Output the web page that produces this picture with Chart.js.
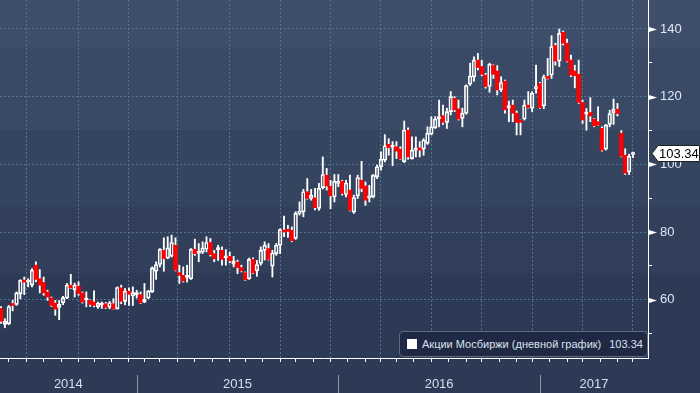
<!DOCTYPE html>
<html>
<head>
<meta charset="utf-8">
<script src="https://cdn.jsdelivr.net/npm/chart.js@4.4.1/dist/chart.umd.min.js"></script>
<style>
  html, body { margin: 0; padding: 0; }
  body {
    width: 700px;
    height: 393px;
    overflow: hidden;
    position: relative;
    background: linear-gradient(to bottom,
      #3f4f6b 0px, #3f4f6b 48px,
      #3a4966 48px, #3a4966 130px,
      #35445f 130px, #35445f 207px,
      #313f5b 207px, #313f5b 273px,
      #2d3a56 273px, #2d3a56 393px);
    font-family: "Liberation Sans", Arial, sans-serif;
  }
  #chart { display: block; }
  .legend {
    position: absolute;
    left: 399px;
    top: 331px;
    width: 249px;
    height: 26px;
    box-sizing: border-box;
    background: #1f2943;
    border: 1px solid #5d6a82;
    border-radius: 4px;
    display: flex;
    align-items: center;
    padding-left: 7px;
    color: #d9e1ed;
    font-size: 11px;
    white-space: nowrap;
  }
  .legend .box { width: 10px; height: 10px; background: #ffffff; margin-right: 5px; }
  .legend .val { margin-left: 8px; }
</style>
</head>
<body>
<canvas id="chart" width="700" height="393"></canvas>
<div class="legend"><span class="box"></span><span>Акции Мосбиржи (дневной график)</span><span class="val" id="lastVal"></span></div>
<script>
// weekly bars, first week starts Monday 28 Apr 2014
const firstWeek = Date.UTC(2014, 3, 28);

const opens = [
  57.4, 52.7, 52.9, 58.8, 58.6, 61.8, 65.7, 65.2, 64.3, 70.2,
  66.2, 65.1, 62.3, 60.5, 59.0, 57.7, 59.1, 60.5, 64.3, 63.0,
  64.0, 62.0, 59.9, 59.8, 59.3, 57.9, 58.4, 58.8, 57.8, 58.8,
  57.3, 63.5, 59.5, 62.5, 61.1, 61.5, 61.5, 59.3, 60.5, 62.3,
  68.4, 70.4, 74.6, 72.3, 72.9, 76.1, 68.0, 67.2, 66.6, 66.2,
  74.9, 73.7, 74.1, 74.9, 76.9, 73.6, 74.8, 74.6, 72.4, 72.8,
  70.5, 71.1, 69.5, 68.0, 66.2, 71.9, 68.5, 70.7, 74.6, 75.1,
  69.9, 73.6, 76.1, 80.5, 80.7, 80.5, 78.1, 85.5, 86.0, 91.9,
  89.9, 90.1, 87.0, 93.1, 96.8, 93.5, 90.4, 94.4, 95.0, 91.1,
  92.4, 85.9, 90.7, 95.3, 93.6, 90.1, 90.4, 96.3, 99.3, 101.2,
  105.9, 105.0, 105.2, 104.5, 100.8, 110.1, 101.7, 104.2, 104.9, 104.5,
  106.2, 108.9, 110.8, 113.4, 114.4, 112.4, 115.6, 119.5, 116.4, 113.6,
  115.1, 123.7, 125.9, 130.8, 128.9, 126.4, 123.0, 129.2, 127.6, 122.0,
  124.6, 116.6, 117.5, 115.1, 112.8, 113.4, 117.5, 116.6, 122.4, 123.9,
  117.3, 125.9, 126.4, 135.1, 130.5, 139.0, 135.8, 130.8, 127.6, 126.6,
  118.3, 114.8, 115.3, 113.4, 112.6, 110.6, 104.5, 111.8, 115.3, 116.3,
  109.2, 102.7, 97.8, 102.9
];
const highs = [
  58.0, 54.4, 58.3, 59.8, 62.3, 65.9, 66.7, 66.2, 69.2, 71.2,
  68.9, 66.7, 62.8, 60.8, 59.8, 59.8, 61.0, 64.8, 67.5, 64.9,
  65.3, 62.3, 62.3, 60.0, 62.6, 59.3, 59.3, 59.2, 59.5, 60.3,
  63.8, 64.3, 63.3, 63.5, 63.8, 62.8, 62.3, 64.8, 62.8, 69.7,
  71.2, 75.1, 78.3, 78.6, 79.1, 78.3, 70.2, 69.7, 70.2, 75.1,
  77.9, 76.6, 77.1, 78.6, 78.1, 74.6, 76.1, 75.6, 74.8, 74.1,
  72.8, 71.7, 70.2, 68.2, 72.3, 72.4, 71.6, 75.6, 77.1, 76.6,
  74.6, 76.6, 81.0, 84.7, 82.0, 81.5, 86.0, 88.9, 92.6, 95.8,
  92.6, 92.9, 94.4, 102.2, 98.8, 95.3, 97.0, 97.0, 95.3, 95.3,
  96.8, 90.9, 96.8, 100.9, 94.8, 93.8, 97.0, 99.8, 103.7, 108.8,
  107.6, 106.7, 106.7, 105.2, 112.8, 110.8, 108.1, 108.1, 106.7, 107.6,
  111.1, 114.1, 114.1, 119.0, 117.5, 116.6, 121.5, 120.0, 119.0, 116.6,
  123.5, 129.9, 131.8, 132.8, 130.8, 126.9, 129.9, 129.4, 129.2, 125.9,
  124.9, 118.7, 119.0, 115.8, 113.1, 119.0, 121.5, 121.5, 129.3, 124.2,
  126.4, 131.3, 138.0, 135.8, 140.0, 139.4, 137.0, 132.3, 129.3, 130.8,
  119.0, 116.5, 119.7, 113.6, 117.0, 111.1, 111.8, 116.0, 119.3, 118.0,
  110.0, 104.6, 103.0, 103.6
];
const lows = [
  53.0, 51.7, 52.6, 56.7, 58.3, 60.3, 61.5, 63.8, 63.8, 65.3,
  62.0, 61.3, 59.8, 58.0, 55.4, 54.1, 58.5, 60.3, 63.3, 60.8,
  61.3, 59.0, 57.9, 58.0, 57.9, 57.4, 57.4, 57.4, 57.3, 57.2,
  57.2, 58.8, 58.5, 58.3, 58.3, 60.5, 58.9, 59.1, 60.3, 62.1,
  66.0, 69.7, 68.4, 72.1, 72.6, 68.5, 64.8, 65.2, 65.2, 66.0,
  73.1, 71.2, 73.6, 74.1, 72.9, 71.2, 71.6, 70.2, 70.2, 70.9,
  69.7, 67.7, 68.2, 65.7, 66.0, 67.7, 66.9, 70.2, 71.7, 71.7,
  66.7, 73.1, 73.6, 78.6, 78.4, 77.1, 77.8, 85.0, 84.5, 89.7,
  89.4, 86.5, 86.4, 92.7, 92.4, 86.9, 88.9, 93.4, 90.9, 90.4,
  86.2, 85.5, 89.9, 91.9, 87.9, 88.9, 90.1, 95.8, 98.3, 100.7,
  102.7, 99.6, 101.7, 101.5, 100.5, 101.5, 101.5, 102.2, 102.2, 102.7,
  105.9, 108.7, 110.6, 111.1, 111.8, 110.6, 114.6, 115.6, 113.1, 111.1,
  114.8, 123.3, 124.6, 127.9, 126.2, 122.5, 121.3, 125.4, 120.5, 121.5,
  115.1, 112.6, 112.6, 108.7, 108.7, 113.1, 116.6, 115.6, 121.0, 116.5,
  116.5, 125.2, 125.4, 129.3, 128.9, 135.3, 130.3, 125.9, 122.6, 118.0,
  112.1, 110.1, 112.6, 111.1, 111.5, 103.9, 104.2, 111.1, 111.8, 114.3,
  102.2, 97.0, 97.0, 102.0
];
const closes = [
  53.6, 53.6, 58.0, 58.3, 62.0, 65.7, 65.2, 65.7, 68.7, 66.0,
  64.3, 62.0, 60.8, 58.3, 57.2, 58.6, 60.6, 64.3, 63.5, 64.3,
  61.8, 59.3, 60.1, 58.6, 58.3, 59.0, 58.6, 57.7, 59.1, 57.3,
  63.6, 59.5, 62.5, 61.6, 62.1, 61.8, 59.1, 60.1, 62.5, 69.4,
  70.4, 74.9, 72.1, 75.3, 76.9, 68.7, 67.2, 65.5, 66.8, 74.9,
  73.6, 74.0, 75.3, 76.9, 73.3, 72.1, 75.1, 71.9, 72.8, 71.5,
  71.4, 69.5, 68.5, 65.9, 71.9, 67.9, 70.4, 74.6, 76.1, 71.9,
  73.8, 76.1, 80.7, 80.0, 80.2, 77.4, 85.5, 86.0, 91.9, 89.9,
  90.9, 87.2, 92.9, 97.0, 93.6, 90.7, 95.0, 94.8, 91.4, 94.5,
  86.4, 90.2, 96.1, 92.9, 89.4, 90.7, 96.8, 99.3, 101.5, 105.5,
  104.9, 105.2, 103.9, 101.7, 110.1, 102.2, 104.2, 104.5, 104.2, 107.2,
  109.2, 111.1, 113.4, 114.1, 112.4, 115.6, 120.0, 116.1, 113.4, 115.1,
  123.3, 126.1, 130.8, 128.6, 126.6, 123.0, 129.6, 126.6, 122.0, 124.2,
  116.1, 117.4, 115.1, 112.4, 112.4, 117.5, 116.8, 121.0, 122.9, 116.7,
  125.9, 125.4, 134.8, 130.5, 138.7, 135.8, 130.5, 126.4, 126.2, 118.3,
  113.1, 115.0, 114.3, 111.4, 111.6, 104.2, 111.6, 115.0, 116.3, 115.0,
  102.4, 97.4, 102.4, 103.34
];

const yTicks = [50, 60, 70, 80, 90, 100, 110, 120, 130, 140];
const years = ['2014', '2015', '2016', '2017'];

const gridColor = '#52748f';
const upColor = '#ffffff';
const downColor = '#ff0000';

// month ticks sit on the bar of the week that holds the 1st of the month
const weekMs = 7 * 24 * 3600 * 1000;
const monthTicks = [];
for (let m = 4; m <= 42; m++) {
  const d = Date.UTC(2014, m, 1);
  monthTicks.push({ value: Math.floor((d - firstWeek) / weekMs), month: m % 12 });
}
const quarterIdx = monthTicks.filter(t => t.month % 3 === 0).map(t => t.value);
const yearIdx = monthTicks.filter(t => t.month === 0).map(t => t.value);

const idx = opens.map((o, i) => i);
const isUp = idx.map(i => closes[i] >= opens[i]);
const lastClose = closes[closes.length - 1];
document.getElementById('lastVal').textContent = lastClose.toFixed(2);

const decorations = {
  id: 'decorations',
  afterDraw(chart) {
    const { ctx, chartArea, scales } = chart;
    const x = scales.x, y = scales.y;
    ctx.save();

    // arrow marks on the major price ticks
    ctx.fillStyle = '#ffffff';
    yTicks.filter(v => v % 20 === 0).forEach(v => {
      const py = Math.round(y.getPixelForValue(v)) + 0.5;
      ctx.beginPath();
      ctx.moveTo(chartArea.right + 1, py - 2.5);
      ctx.lineTo(chartArea.right + 9, py);
      ctx.lineTo(chartArea.right + 1, py + 2.5);
      ctx.closePath();
      ctx.fill();
    });

    // year separators and labels
    ctx.strokeStyle = '#8e98aa';
    ctx.lineWidth = 1;
    yearIdx.forEach(i => {
      const px = Math.round(x.getPixelForValue(i)) + 0.5;
      ctx.beginPath();
      ctx.moveTo(px, chartArea.bottom + 17);
      ctx.lineTo(px, chart.height);
      ctx.stroke();
    });
    const edges = [chartArea.left].concat(yearIdx.map(i => x.getPixelForValue(i)), [chartArea.right]);
    ctx.fillStyle = '#d6dfeb';
    ctx.font = '13px "Liberation Sans", Arial, sans-serif';
    ctx.textAlign = 'center';
    ctx.textBaseline = 'middle';
    years.forEach((yr, k) => ctx.fillText(yr, (edges[k] + edges[k + 1]) / 2, chartArea.bottom + 26));

    // last price tag
    const py = Math.round(y.getPixelForValue(lastClose)) + 0.5;
    const lx = chartArea.right + 4;
    ctx.beginPath();
    ctx.moveTo(lx, py);
    ctx.lineTo(lx + 6, py - 8);
    ctx.lineTo(699.5, py - 8);
    ctx.lineTo(699.5, py + 8);
    ctx.lineTo(lx + 6, py + 8);
    ctx.closePath();
    ctx.fillStyle = '#ffffff';
    ctx.fill();
    ctx.strokeStyle = '#202020';
    ctx.stroke();
    ctx.fillStyle = '#000000';
    ctx.textAlign = 'left';
    ctx.fillText(lastClose.toFixed(2), lx + 7, py + 1);

    ctx.restore();
  }
};

new Chart(document.getElementById('chart'), {
  type: 'bar',
  data: {
    datasets: [
      {
        data: idx.map(i => ({ x: i, y: [opens[i], closes[i]] })),
        backgroundColor: isUp.map(u => u ? 'rgba(0,0,0,0)' : downColor),
        borderColor: isUp.map(u => u ? upColor : downColor),
        borderWidth: isUp.map(u => u ? 1 : 0),
        borderSkipped: false,
        barThickness: 3.7,
        minBarLength: 2,
        grouped: false
      },
      {
        data: idx.map(i => ({ x: i, y: [Math.max(opens[i], closes[i]), highs[i]] })),
        backgroundColor: upColor,
        barThickness: 1.2,
        grouped: false
      },
      {
        data: idx.map(i => ({ x: i, y: [lows[i], Math.min(opens[i], closes[i])] })),
        backgroundColor: upColor,
        barThickness: 1.2,
        grouped: false
      }
    ]
  },
  options: {
    responsive: false,
    animation: false,
    devicePixelRatio: 1,
    layout: { padding: 0 },
    plugins: {
      legend: { display: false },
      tooltip: { enabled: false }
    },
    scales: {
      x: {
        type: 'linear',
        min: -0.26,
        max: 166.88,
        offset: false,
        afterBuildTicks: s => { s.ticks = monthTicks.map(t => ({ value: t.value })); },
        ticks: { display: false },
        grid: {
          color: c => (c.tick && quarterIdx.includes(c.tick.value)) ? gridColor : 'rgba(0,0,0,0)',
          tickColor: '#ffffff',
          tickLength: 4
        },
        border: { color: '#ffffff', width: 1, dash: [2, 2] },
        afterFit: s => { s.height = 35; s.paddingLeft = 0; s.paddingRight = 0; }
      },
      y: {
        type: 'linear',
        position: 'right',
        min: 42.77,
        max: 148.57,
        afterBuildTicks: s => { s.ticks = yTicks.map(v => ({ value: v })); },
        ticks: {
          callback: v => v % 20 === 0 ? String(v) : '',
          color: '#dde8f5',
          font: { size: 13, family: '"Liberation Sans", Arial, sans-serif' },
          padding: 8
        },
        grid: {
          color: c => (c.tick && c.tick.value % 20 === 0) ? gridColor : 'rgba(0,0,0,0)',
          tickColor: c => (c.tick && c.tick.value % 20 === 0) ? 'rgba(0,0,0,0)' : '#ffffff',
          tickLength: 4
        },
        border: { color: '#ffffff', width: 1, dash: [2, 2] },
        afterFit: s => { s.width = 52; s.paddingTop = 0; s.paddingBottom = 0; }
      }
    }
  },
  plugins: [decorations]
});
</script>
</body>
</html>
